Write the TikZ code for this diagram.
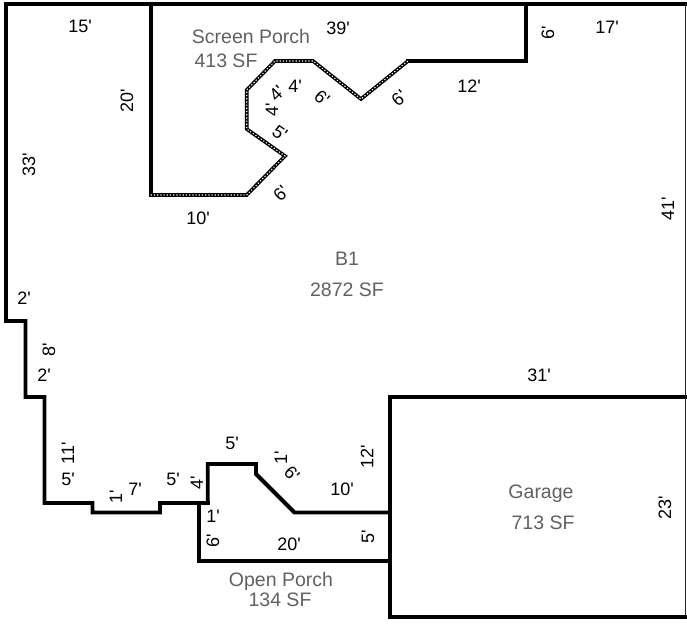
\documentclass[tikz,border=0pt]{standalone}
\usepackage{fontspec}
\newfontfamily\planfont{Liberation Sans}
\tikzset{
  wall/.style={line width=3.9pt,line join=miter,line cap=rect,black},
  edgewall/.style={line width=1.1pt,black!85},
  screenbase/.style={line width=3.6pt,line join=miter,black},
  screendots/.style={line width=1.1pt,white,dash pattern=on 1.2pt off 2pt},
  dim/.style={inner sep=0pt,outer sep=0pt,font=\planfont\fontsize{18}{20}\selectfont,text=black},
  roomlabel/.style={inner sep=0pt,outer sep=0pt,font=\planfont\fontsize{19.5}{21}\selectfont,text=black!62}
}
\begin{document}
\begin{tikzpicture}[x=1pt,y=-1pt]
\useasboundingbox (0,0) rectangle (687,623);
\fill[white] (0,0) rectangle (687,623);
% outer wall
\draw[wall] (150.7,195) -- (150.7,4);
\draw[wall] (6,321) -- (6,4) -- (687,4);
\draw[wall] (6,321) -- (25.5,321) -- (25.5,397) -- (44.5,397) -- (44.5,503) -- (92.5,503) -- (92.5,512.5) -- (160,512.5) -- (160,503) -- (207.7,503) -- (207.7,464) -- (256,464) -- (256,474) -- (294.5,512.5) -- (390,512.5);
\draw[wall] (207.7,503) -- (199,503) -- (199,561) -- (390,561);
\draw[wall] (687,397) -- (390,397) -- (390,617) -- (687,617);
\draw[wall] (408,61) -- (526,61) -- (526,4);
\draw[edgewall] (685.5,4) -- (685.5,617);
% screen porch boundary
\draw[screenbase] (150.7,195) -- (246.7,195) -- (285,156) -- (246.7,129) -- (246.7,90) -- (275,61) -- (313,61) -- (361,99) -- (408,61);
\draw[screendots] (150.7,195) -- (246.7,195) -- (285,156) -- (246.7,129) -- (246.7,90) -- (275,61) -- (313,61) -- (361,99) -- (408,61);
% dimensions
\node[dim] (d15) at (80,26) {15'};
\node[dim] (d39) at (338,28) {39'};
\node[dim] (d17) at (607,27) {17'};
\node[dim,rotate=90] (d6a) at (548,33) {6'};
\node[dim,rotate=90] (d20a) at (127,101) {20'};
\node[dim,rotate=90] (d33) at (29,165) {33'};
\node[dim,rotate=90] (d41) at (668,209) {41'};
\node[dim] (d12a) at (469,86) {12'};
\node[dim,rotate=40] (d6b) at (399,98) {6'};
\node[dim,rotate=-40] (d6c) at (322,98) {6'};
\node[dim] (d4a) at (295,86) {4'};
\node[dim,rotate=45] (d4b) at (277,93) {4'};
\node[dim,rotate=90] (d4c) at (272,110) {4'};
\node[dim,rotate=-35] (d5a) at (280,133) {5'};
\node[dim,rotate=45] (d6d) at (281,193) {6'};
\node[dim] (d10a) at (198,218) {10'};
\node[dim] (d2a) at (24,298) {2'};
\node[dim,rotate=90] (d8) at (49,350) {8'};
\node[dim] (d2b) at (44,375) {2'};
\node[dim,rotate=90] (d11) at (68,453) {11'};
\node[dim] (d5b) at (68,479) {5'};
\node[dim,rotate=90] (d1a) at (116,497) {1'};
\node[dim] (d7) at (135,489) {7'};
\node[dim] (d5c) at (173,479) {5'};
\node[dim,rotate=90] (d4d) at (197,483) {4'};
\node[dim] (d5d) at (232,443) {5'};
\node[dim,rotate=90] (d1b) at (281,458) {1'};
\node[dim,rotate=-45] (d6e) at (292,474) {6'};
\node[dim,rotate=90] (d12b) at (367,457) {12'};
\node[dim] (d10b) at (342,489) {10'};
\node[dim] (d1c) at (213,516) {1'};
\node[dim,rotate=90] (d6f) at (213,541) {6'};
\node[dim] (d20b) at (289,544) {20'};
\node[dim,rotate=90] (d5e) at (368,537) {5'};
\node[dim] (d31) at (539,375) {31'};
\node[dim,rotate=90] (d23) at (665,508) {23'};
% room labels
\node[roomlabel] (screen) at (251,37) {Screen Porch};
\node[roomlabel] (screensf) at (226,61) {413 SF};
\node[roomlabel] (b1) at (347,259) {B1};
\node[roomlabel] (b1sf) at (347,290) {2872 SF};
\node[roomlabel] (open) at (281,581) {Open Porch};
\node[roomlabel] (opensf) at (280,600) {134 SF};
\node[roomlabel] (garage) at (541,494) {Garage};
\node[roomlabel] (garagesf) at (543,523) {713 SF};
\end{tikzpicture}
\end{document}
